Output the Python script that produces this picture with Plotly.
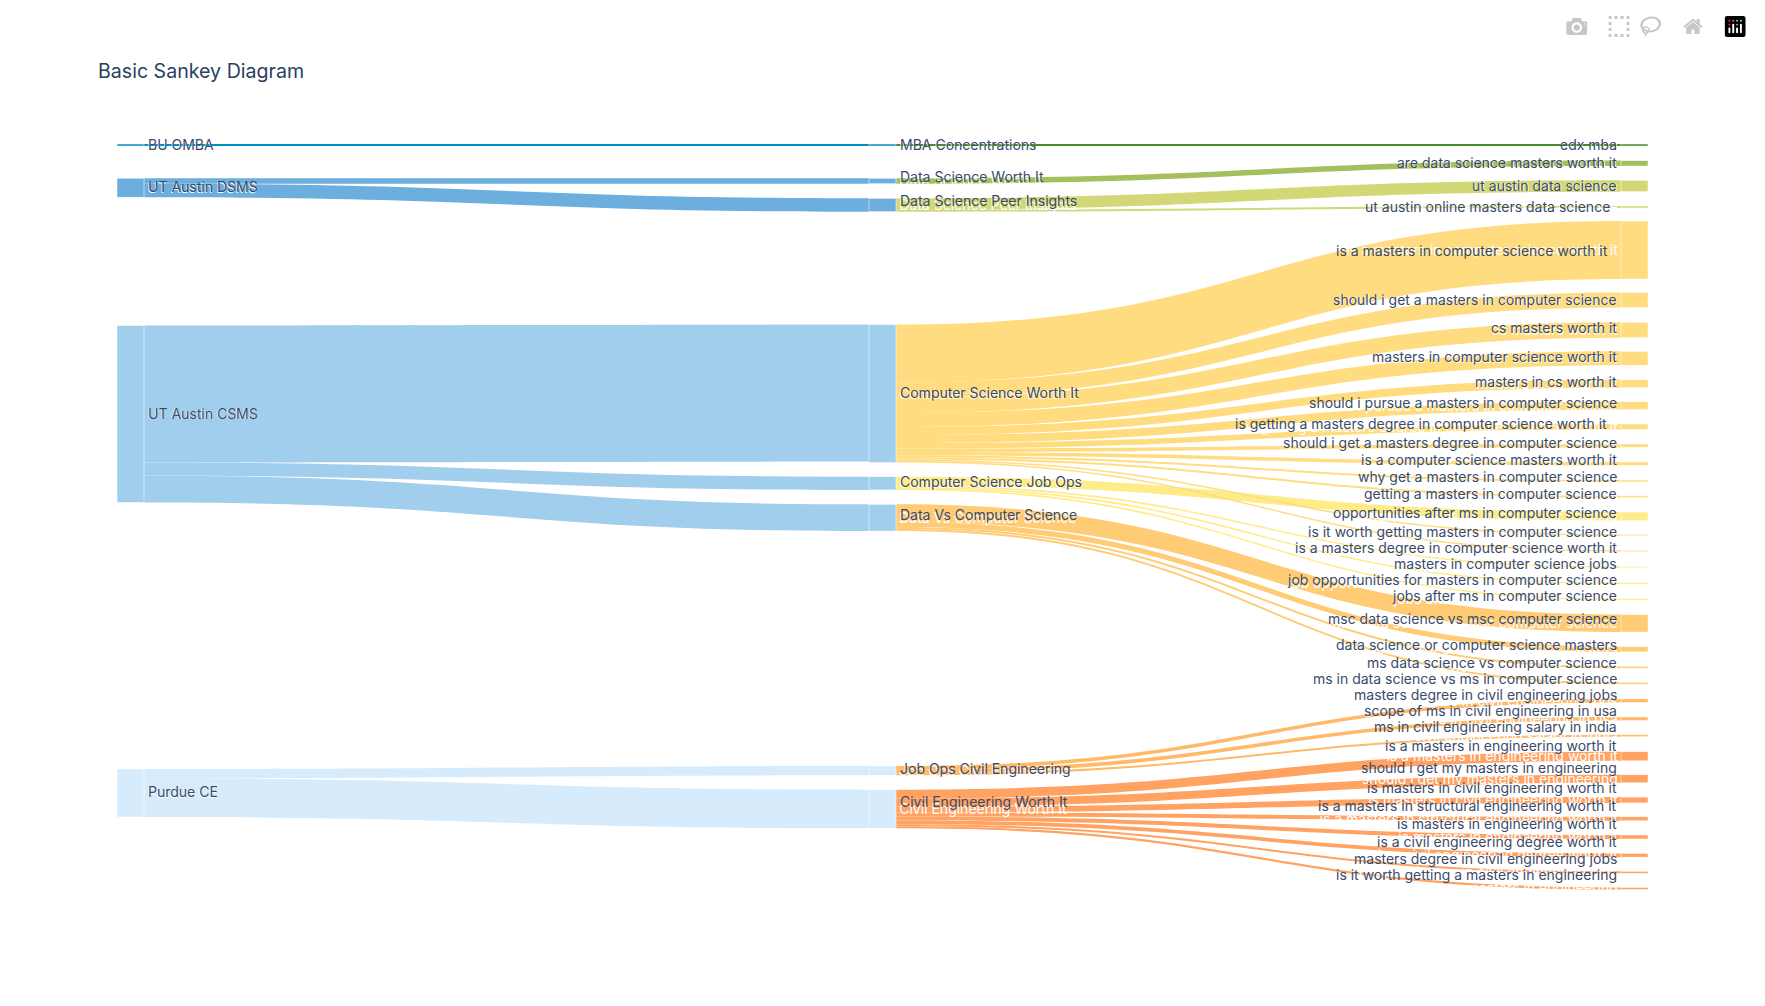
import plotly.graph_objects as go

sources_names = ["BU OMBA", "UT Austin DSMS", "UT Austin CSMS", "Purdue CE"]
mid_names = ["MBA Concentrations", "Data Science Worth It", "Data Science Peer Insights",
             "Computer Science Worth It", "Computer Science Job Ops", "Data Vs Computer Science",
             "Job Ops Civil Engineering", "Civil Engineering Worth It"]
right_names = [
    "edx mba", "are data science masters worth it", "ut austin data science",
    "ut austin online masters data science",
    "is a masters in computer science worth it", "should i get a masters in computer science",
    "cs masters worth it", "masters in computer science worth it", "masters in cs worth it",
    "should i pursue a masters in computer science",
    "is getting a masters degree in computer science worth it",
    "should i get a masters degree in computer science", "is a computer science masters worth it",
    "why get a masters in computer science", "getting a masters in computer science",
    "opportunities after ms in computer science", "is it worth getting masters in computer science",
    "is a masters degree in computer science worth it", "masters in computer science jobs",
    "job opportunities for masters in computer science", "jobs after ms in computer science",
    "msc data science vs msc computer science", "data science or computer science masters",
    "ms data science vs computer science", "ms in data science vs ms in computer science",
    "masters degree in civil engineering jobs", "scope of ms in civil engineering in usa",
    "ms in civil engineering salary in india", "is a masters in engineering worth it",
    "should i get my masters in engineering", "is masters in civil engineering worth it",
    "is a masters in structural engineering worth it", "is masters in engineering worth it",
    "is a civil engineering degree worth it", "masters degree in civil engineering jobs",
    "is it worth getting a masters in engineering",
]
labels = sources_names + mid_names + right_names

first_src = [0, 1, 1, 2, 2, 2, 3, 3]
first_dst = [0, 1, 2, 3, 4, 5, 6, 7]
first_val = [2, 5.5, 13.5, 137, 13.3, 26.7, 9.3, 38.7]

second_src = [0, 1, 2, 2] + [3] * 11 + [4] + [3, 3] + [4, 4, 4] + [5] * 4 + [6] * 3 + [7] * 8
second_val = [2, 5.5, 11.5, 2,
              58, 15, 15.5, 14, 8, 8, 5.5, 3.5, 3.5, 2, 2,
              8.5, 1.5, 1.5, 1.6, 1.6, 1.6,
              17.5, 5.2, 2, 2,
              3.6, 3.6, 2.1,
              9, 8, 5.8, 4, 4, 3.7, 2.1, 2.1]

left_color = ["#0090c8", "#6cafdf", "#a1ceed", "#d6ecfd"]
first_color = ["#0090c8", "#6cafdf", "#6cafdf", "#a1ceed", "#a1ceed", "#a1ceed", "#d6ecfd", "#d6ecfd"]
second_color_by_mid = ["#458d2a", "#a4bf5b", "#d3d876", "#ffdc7f", "#ffec88", "#ffcb74", "#ffb968", "#ffa262"]

left_cy = [145, 187.7, 414, 793]
mid_cy = [145, 181, 205, 393.6, 483.3, 517.7, 770.7, 809]
right_cy = [145, 163.3, 186, 207, 250, 300, 330, 358.3, 383.7, 405.7, 426.7, 445.7, 463.7, 481,
            496.7, 516.3, 535, 551, 567, 583.3, 599.3, 623.3, 649.3, 667.3, 683.3, 700.7, 718.7,
            735.7, 756.3, 778.8, 800, 818.8, 837, 855.3, 872.3, 888.5]

left_text_y = [144, 186.7, 413.5, 791]
mid_text_y = [144, 176.5, 200.5, 392.6, 481.3, 514.7, 768.3, 801.3]
right_text_y = [144.5, 162.8, 185.2, 206.2, 250.2, 299.2, 327.2, 356.5, 381.5, 402.5, 423.5, 442.5,
                459.5, 476.5, 493.9, 512.5, 531.5, 547.5, 563.9, 579.9, 595.9, 618.4, 644.9,
                662.9, 678.5, 694.9, 710.9, 726.5, 745.9, 767.9, 787.9, 805.9, 823.9, 841.5,
                858.5, 874.9]
right_text_end = [1618] * 36
right_text_end[3] = 1611
right_text_end[4] = 1609
right_text_end[10] = 1608

PAGE_OFFSET = 8  # the page's own margin around the figure
WIDTH, HEIGHT = 1749, 990
PAD = 20  # plotly caps this so padding takes two thirds of the height
THICK = 27
M_L, M_R, M_T = 109, 109, 132
PLOT_W = WIDTH - M_L - M_R
PLOT_H = round(3 * sum(second_val))  # one value unit = one pixel
M_B = HEIGHT - M_T - PLOT_H
FONT = "Inter, 'Open Sans', sans-serif"
DARK = "#3a4b6a"

n_l, n_m = len(sources_names), len(mid_names)
source = first_src + [n_l + s for s in second_src]
target = [n_l + d for d in first_dst] + [n_l + n_m + i for i in range(len(right_names))]
value = first_val + second_val
link_color = first_color + [second_color_by_mid[s] for s in second_src]
node_color = left_color + first_color + [second_color_by_mid[s] for s in second_src]

fx = lambda p: (p - PAGE_OFFSET - M_L) / PLOT_W
fy = lambda p: (p - PAGE_OFFSET - M_T) / PLOT_H
node_x = [THICK / 2 / PLOT_W] * n_l + [0.5] * n_m + [1 - THICK / 2 / PLOT_W] * len(right_names)
node_y = [fy(v) for v in left_cy + mid_cy + right_cy]

fig = go.Figure(go.Sankey(
    arrangement="fixed",
    valueformat=".1f",
    node=dict(label=labels, x=node_x, y=node_y, pad=PAD, thickness=THICK,
              color=node_color, line=dict(color="white", width=0.5)),
    link=dict(source=source, target=target, value=value, color=link_color),
    textfont=dict(family=FONT, size=14, color="#ffffff", shadow="none"),
))

ann = []
for name, y in zip(sources_names, left_text_y):
    ann.append(dict(text=name, x=fx(147), y=1 - fy(y), xanchor="left"))
for name, y in zip(mid_names, mid_text_y):
    ann.append(dict(text=name, x=fx(899), y=1 - fy(y), xanchor="left"))
for name, y, e in zip(right_names, right_text_y, right_text_end):
    ann.append(dict(text=name, x=fx(e), y=1 - fy(y), xanchor="right"))
for a in ann:
    a.update(xref="paper", yref="paper", yanchor="middle", showarrow=False,
             font=dict(family=FONT, size=14, color=DARK), borderpad=0)

fig.update_layout(
    width=WIDTH, height=HEIGHT,
    margin=dict(l=M_L, r=M_R, t=M_T, b=M_B),
    paper_bgcolor="white",
    title=dict(text="Basic Sankey Diagram", x=(98 - PAGE_OFFSET) / WIDTH, xanchor="left",
               y=1 - (71 - PAGE_OFFSET) / HEIGHT, yanchor="middle",
               font=dict(family=FONT, size=19.6, color="#2a3f5f")),
    annotations=ann,
)
MODEBAR_JS = """
var s = document.createElement('style');
s.textContent = '.modebar{transform:translate(-4px,2px) scale(1.32);transform-origin:top right;}'
  + '.plotlyjsicon{background:#3f4f75;background-clip:content-box;isolation:isolate;}'
  + '.plotlyjsicon svg{mix-blend-mode:screen;}';
document.head.appendChild(s);
"""
fig.write_html("out.html", config=dict(displayModeBar=True), post_script=MODEBAR_JS)
